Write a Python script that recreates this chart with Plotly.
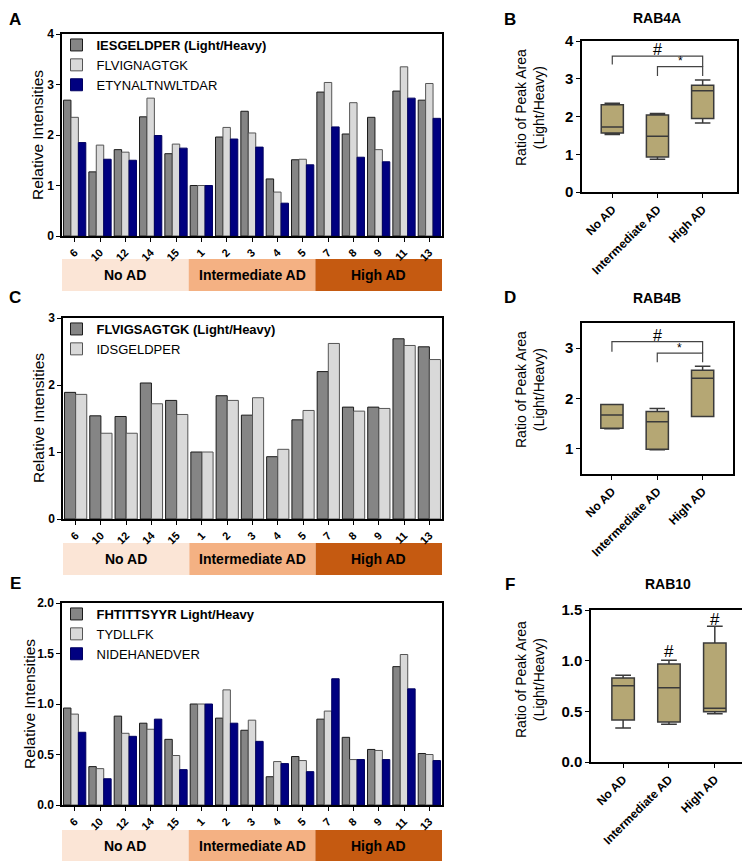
import plotly.graph_objects as go

W, H = 750, 865
OFF = 8  # page body margin in the browser

# ---------------- data ----------------
samples = ["6", "10", "12", "14", "15", "1", "2", "3", "4", "5", "7", "8", "9", "11", "13"]
groups = ["No AD", "Intermediate AD", "High AD"]
group_sizes = [5, 5, 5]
group_colors = ["#fbe5d6", "#f4b183", "#c55a11"]

# Panel A (RAB4A peptides)
a_names = ["<b>IESGELDPER (Light/Heavy)</b>", "FLVIGNAGTGK", "ETYNALTNWLTDAR"]
a_iesgeldper = [2.69, 1.27, 1.71, 2.36, 1.63, 1.00, 1.96, 2.47, 1.13, 1.51, 2.85, 2.02, 2.35, 2.87, 2.69]
a_flvignagtgk = [2.35, 1.80, 1.66, 2.73, 1.82, 1.00, 2.15, 2.04, 0.87, 1.52, 3.04, 2.64, 1.71, 3.35, 3.02]
a_etynaltnwltdar = [1.85, 1.52, 1.50, 1.99, 1.74, 1.00, 1.92, 1.76, 0.65, 1.41, 2.16, 1.56, 1.47, 2.73, 2.33]

# Panel C (RAB4B peptides)
c_names = ["<b>FLVIGSAGTGK (Light/Heavy)</b>", "IDSGELDPER"]
c_flvigsagtgk = [1.89, 1.54, 1.53, 2.03, 1.77, 1.00, 1.84, 1.55, 0.93, 1.48, 2.20, 1.67, 1.67, 2.69, 2.57]
c_idsgeldper = [1.86, 1.28, 1.28, 1.72, 1.56, 1.00, 1.77, 1.81, 1.04, 1.62, 2.62, 1.61, 1.65, 2.59, 2.38]

# Panel E (RAB10 peptides)
e_names = ["<b>FHTITTSYYR Light/Heavy</b>", "TYDLLFK", "NIDEHANEDVER"]
e_fhtittsyyr = [0.96, 0.38, 0.88, 0.81, 0.65, 1.00, 0.86, 0.74, 0.28, 0.48, 0.85, 0.67, 0.55, 1.37, 0.51]
e_tydllfk = [0.90, 0.36, 0.71, 0.75, 0.49, 1.00, 1.14, 0.84, 0.43, 0.44, 0.93, 0.45, 0.54, 1.49, 0.50]
e_nidehanedver = [0.72, 0.26, 0.68, 0.85, 0.35, 1.00, 0.81, 0.63, 0.41, 0.33, 1.25, 0.45, 0.45, 1.15, 0.44]

# Box plots: lower whisker, q1, median, q3, upper whisker
b_low = [1.52, 0.87, 1.83]
b_q1 = [1.56, 0.93, 1.95]
b_med = [1.72, 1.48, 2.68]
b_q3 = [2.31, 2.04, 2.83]
b_high = [2.35, 2.08, 2.97]

d_low = [1.40, 0.98, 1.64]
d_q1 = [1.41, 0.99, 1.64]
d_med = [1.67, 1.54, 2.40]
d_q3 = [1.88, 1.74, 2.56]
d_high = [1.88, 1.80, 2.64]

f_low = [0.335, 0.372, 0.477]
f_q1 = [0.414, 0.395, 0.497]
f_med = [0.753, 0.733, 0.53]
f_q3 = [0.83, 0.967, 1.174]
f_high = [0.855, 1.003, 1.339]

bar_colors = ["#858585", "#d9d9d9", "#000080"]
bar_lines = ["#1a1a1a", "#555555", "#000060"]
box_fill = "#b5a774"
FONT = "Arial, Liberation Sans, sans-serif"


def py(p):
    return 1 - (p - OFF) / H


def px(p):
    return (p - OFF) / W


fig = go.Figure()

bar_panels = [
    ("x", "y", "legend", [a_iesgeldper, a_flvignagtgk, a_etynaltnwltdar], a_names),
    ("x3", "y3", "legend2", [c_flvigsagtgk, c_idsgeldper], c_names),
    ("x5", "y5", "legend3", [e_fhtittsyyr, e_tydllfk, e_nidehanedver], e_names),
]
for xa, ya, lg, series, names in bar_panels:
    for i, (vals, nm) in enumerate(zip(series, names)):
        fig.add_trace(go.Bar(
            x=samples, y=vals, name=nm, xaxis=xa, yaxis=ya, legend=lg,
            offsetgroup=str(i),
            marker=dict(color=bar_colors[i], line=dict(color=bar_lines[i], width=1)),
        ))

box_panels = [
    ("x2", "y2", b_low, b_q1, b_med, b_q3, b_high),
    ("x4", "y4", d_low, d_q1, d_med, d_q3, d_high),
    ("x6", "y6", f_low, f_q1, f_med, f_q3, f_high),
]
for xa, ya, lo, q1, me, q3, hi in box_panels:
    fig.add_trace(go.Box(
        x=groups, q1=q1, median=me, q3=q3, lowerfence=lo, upperfence=hi,
        xaxis=xa, yaxis=ya, showlegend=False, fillcolor=box_fill,
        line=dict(color="#3a3a3a", width=1.5), whiskerwidth=0.7,
        boxpoints=False, hoverinfo="skip",
    ))

axis_common = dict(showline=True, linecolor="black", linewidth=1.5, mirror=True,
                   ticks="outside", ticklen=4, tickwidth=1.3, tickcolor="black",
                   showgrid=False, zeroline=False, automargin=False)

bar_tickfont = dict(family=FONT, size=11, color="black")
bold_samples = ["<b>%s</b>" % s for s in samples]

# bar panel geometry (pixels): x0, x1, ytop, ybottom
bar_geo = {"": (62, 442, 34, 236), "3": (63, 442, 318, 519), "5": (62, 442, 603, 805)}
bar_yrange = {"": (0, 4, 1, "%d"), "3": (0, 3, 1, "%d"), "5": (0, 2, 0.5, "%.1f")}
for k, (x0, x1, yt, yb) in bar_geo.items():
    lo, hi, step, fmt = bar_yrange[k]
    n = int(round((hi - lo) / step)) + 1
    tv = [lo + i * step for i in range(n)]
    fig.update_layout(**{
        "xaxis" + k: dict(axis_common, domain=[px(x0), px(x1)], anchor="y" + k,
                          type="category", categoryorder="array", categoryarray=samples,
                          tickangle=-45, tickvals=samples, ticktext=bold_samples,
                          tickfont=bar_tickfont, range=[-0.5, len(samples) - 0.5]),
        "yaxis" + k: dict(axis_common, domain=[py(yb), py(yt)], anchor="x" + k,
                          range=[lo, hi], tickvals=tv,
                          ticktext=["<b>" + (fmt % v) + "</b>" for v in tv],
                          tickfont=dict(family=FONT, size=12, color="black")),
    })

box_geo = {"2": (582, 737, 41, 192, [-0.67, 2.76], [0, 4], [0, 1, 2, 3, 4], "%d"),
           "4": (582, 733, 323, 474, [-0.66, 2.67], [0.5, 3.5], [1, 2, 3], "%d"),
           "6": (591, 746, 610, 762, [-0.70, 2.68], [0, 1.5], [0, 0.5, 1.0, 1.5], "%.1f")}
for k, (x0, x1, yt, yb, xr, yr, tv, fmt) in box_geo.items():
    fig.update_layout(**{
        "xaxis" + k: dict(axis_common, domain=[px(x0), px(x1)], anchor="y" + k,
                          type="category", categoryorder="array", categoryarray=groups,
                          tickangle=-45, range=xr, tickvals=groups,
                          ticktext=["<b>%s</b>" % g for g in groups],
                          tickfont=dict(family=FONT, size=12, color="black")),
        "yaxis" + k: dict(axis_common, domain=[py(yb), py(yt)], anchor="x" + k,
                          range=yr, tickvals=tv,
                          ticktext=["<b>" + (fmt % v) + "</b>" for v in tv],
                          tickfont=dict(family=FONT, size=15, color="black")),
    })

# legends inside bar panels
for lg, ytop in [("legend", 30), ("legend2", 314), ("legend3", 599)]:
    fig.update_layout(**{lg: dict(x=px(56.5), y=py(ytop), xanchor="left", yanchor="top",
                                  bgcolor="rgba(0,0,0,0)", tracegroupgap=0,
                                  font=dict(family=FONT, size=13, color="black"),
                                  itemclick=False)})

shapes = []
annotations = []


def note(x, y, text, size, xref="paper", yref="paper", angle=0):
    annotations.append(dict(xref=xref, yref=yref, x=x, y=y, text=text, showarrow=False,
                            xanchor="center", yanchor="middle", textangle=angle,
                            font=dict(family=FONT, size=size, color="black")))


# category bands under bar panels
band_y = {"": (259, 291), "3": (543, 575), "5": (830, 861)}
for k, (y0, y1) in band_y.items():
    start = 0
    for g, n, c in zip(groups, group_sizes, group_colors):
        shapes.append(dict(type="rect", xref="x" + k, yref="paper",
                           x0=start - 0.5, x1=start + n - 0.5, y0=py(y1), y1=py(y0),
                           fillcolor=c, line=dict(width=0), layer="below"))
        note(start + (n - 1) / 2, py((y0 + y1) / 2), "<b>%s</b>" % g, 14, xref="x" + k)
        start += n

# y titles
for xc, yc in [(38, 135), (38, 418), (29, 704)]:
    note(px(xc), py(yc), "Relative Intensities", 15.5, angle=-90)
for yc in [108, 390, 680]:
    note(px(530), py(yc), "Ratio of Peak Area<br>(Light/Heavy)", 14, angle=-90)

# panel letters
for letter, xx, yy in [("A", 15, 19), ("B", 510, 19), ("C", 15, 298),
                       ("D", 510, 298), ("E", 15, 583), ("F", 510, 584)]:
    note(px(xx), py(yy), "<b>%s</b>" % letter, 17)

# box titles
for t, xx, yy in [("RAB4A", 657, 18), ("RAB4B", 657, 298), ("RAB10", 668, 584)]:
    note(px(xx), py(yy), "<b>%s</b>" % t, 14)


# significance brackets
def bracket(k, xa, xb, yh, ya, yb):
    shapes.append(dict(type="path", xref="x" + k, yref="y" + k,
                       path="M %s,%s L %s,%s L %s,%s L %s,%s" % (xa, ya, xa, yh, xb, yh, xb, yb),
                       line=dict(color="#444444", width=1.2)))


bracket("2", 0, 2, 3.60, 3.38, 3.32)
bracket("2", 1, 2, 3.32, 3.07, 3.07)
note(1, 3.78, "#", 16, "x2", "y2")
note(1.5, 3.46, "*", 12, "x2", "y2")
bracket("4", 0, 2, 3.13, 2.93, 2.90)
bracket("4", 1, 2, 2.90, 2.72, 2.72)
note(1, 3.26, "#", 16, "x4", "y4")
note(1.5, 3.01, "*", 12, "x4", "y4")
note(1, 1.09, "#", 17, "x6", "y6")
note(2, 1.41, "#", 17, "x6", "y6")

fig.update_layout(
    template="none",
    width=W, height=H, margin=dict(l=0, r=0, t=0, b=0, autoexpand=False),
    plot_bgcolor="white", paper_bgcolor="white",
    font=dict(family=FONT, color="black"),
    barmode="group", bargap=0.12, bargroupgap=0,
    boxgap=0.3, showlegend=True,
    shapes=shapes, annotations=annotations,
)

fig.write_html("out.html")
